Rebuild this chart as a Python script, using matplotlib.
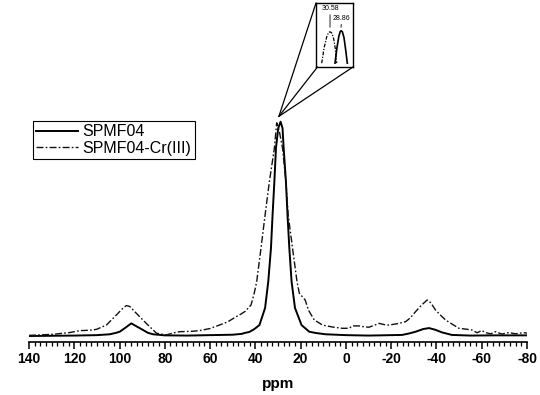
import matplotlib
matplotlib.use("Agg")
import matplotlib.pyplot as plt
from matplotlib.ticker import MultipleLocator
from matplotlib.patches import ConnectionPatch

plt.rcParams['font.family'] = ['Liberation Sans', 'DejaVu Sans']

# ---- data (ppm, relative intensity) ----
solid_ppm = [140, 130, 120, 110, 104.3, 101.5, 99.9, 97.5, 94.8, 92.5, 89.6, 87.5,
             85.2, 80, 70, 60, 50, 46, 44.8, 42.6, 40.5, 38.2, 35.7, 34.3, 33.1,
             32.4, 31.6, 30.9, 29.9, 28.86, 28.0, 27.5, 26.5, 25.8, 25.0, 24.0,
             22.5, 19.6, 16.2, 13.3, 8.9, 0, -10, -20, -24.8, -28, -30.8, -34,
             -36.7, -39.5, -42.4, -46.8, -55, -65, -80]
solid_int = [0.0, 0.1, 0.2, 0.4, 0.8, 1.5, 2.0, 3.8, 5.9, 4.5, 2.8, 1.5,
             0.8, 0.3, 0.2, 0.4, 0.6, 1.0, 1.4, 1.9, 3.2, 5.1, 13.1, 25.4, 41.1,
             56.5, 72.1, 87.7, 97.0, 100.0, 97.0, 87.7, 72.1, 56.5, 41.1, 25.4,
             13.1, 5.1, 2.0, 1.4, 0.8, 0.4, 0.2, 0.4, 0.5, 1.2, 2.0, 3.2,
             3.7, 2.9, 1.7, 0.5, 0.2, 0.3, 0.3]

cr_ppm = [140, 135, 129.3, 122, 117.5, 113, 110.2, 105.8, 101.4, 98.5, 97.0, 95.5,
          92.6, 88.2, 83.7, 79.3, 76, 73.5, 68, 64.7, 60, 55.9, 52.2, 48.5, 47,
          44.5, 41.9, 40.5, 39.4, 37.5, 35.7, 33.8, 31.6, 30.58, 29.5, 28.0, 26.5,
          25.5, 23.6, 21.6, 20.6, 18.0, 16.5, 14.0, 10.3, 6.0, 1.7, -1.4, -2.9,
          -5.8, -8, -10.2, -12.5, -14.6, -17, -19, -23, -26.4, -28.5, -30.8,
          -33.5, -35.9, -37.5, -39.6, -42, -44, -47, -49.9, -53, -55.7, -58,
          -60, -61.6, -64, -66, -68.9, -72, -75, -78.5, -80]
cr_int = [0.3, 0.5, 0.8, 1.6, 2.5, 2.7, 3.1, 5.1, 9.8, 13.0, 14.2, 13.8,
          10.6, 5.9, 1.3, 0.5, 1.5, 2.0, 2.2, 2.5, 3.5, 5.1, 6.6, 9.0, 9.8,
          11.5, 14.5, 20.0, 25.4, 41.1, 56.5, 72.1, 87.7, 99.5, 96.0, 87.7, 72.1,
          56.5, 41.1, 25.4, 20.0, 16.8, 12.0, 7.5, 5.1, 4.2, 3.6, 3.6, 4.7,
          4.7, 4.3, 4.1, 5.0, 5.9, 5.3, 5.1, 5.8, 6.7, 8.5, 11.4,
          14.5, 16.8, 15.5, 12.1, 9.5, 7.5, 5.5, 3.6, 3.2, 2.8, 1.5,
          2.6, 1.6, 1.0, 2.0, 0.9, 1.6, 1.0, 1.6, 1.3]

# inset (zoom on the peak tops)
inset_solid_ppm = [29.8, 29.5, 29.2, 29.0, 28.86, 28.65, 28.4, 28.15, 27.88]
inset_solid_int = [0.06, 0.30, 0.48, 0.55, 0.567, 0.55, 0.46, 0.28, 0.06]
inset_cr_ppm = [31.88, 31.5, 31.1, 30.8, 30.58, 30.3, 30.0, 29.75, 29.53]
inset_cr_int = [0.06, 0.30, 0.47, 0.54, 0.55, 0.53, 0.44, 0.28, 0.06]
peak_labels = ["30.58", "28.86"]

series_names = ["SPMF04", "SPMF04-Cr(III)"]
xticks = [140, 120, 100, 80, 60, 40, 20, 0, -20, -40, -60, -80]

dashdot = (0, (5, 1.6, 1.2, 1.6))

fig = plt.figure(figsize=(5.40, 3.95), dpi=100)
ax = fig.add_axes([29/540, 1-342/395, 498/540, 231/395])
l1, = ax.plot(solid_ppm, solid_int, color='black', lw=1.4, label=series_names[0])
l2, = ax.plot(cr_ppm, cr_int, color='#111111', lw=1.0, linestyle=dashdot, label=series_names[1])
ax.set_xlim(140, -80)
ax.set_ylim(-2.8, 105)
for s in ['left', 'right', 'top']:
    ax.spines[s].set_visible(False)
ax.spines['bottom'].set_linewidth(1.2)
ax.set_yticks([])
ax.set_xticks(xticks)
ax.set_xticklabels([str(t) for t in xticks], fontweight='bold', fontsize=10)
ax.xaxis.set_minor_locator(MultipleLocator(2.5))
ax.tick_params(axis='x', which='major', direction='out', length=5, width=1.1, pad=2)
ax.tick_params(axis='x', which='minor', direction='out', length=3, width=0.9)
ax.set_xlabel('ppm', fontweight='bold', fontsize=11, labelpad=8)

leg = fig.legend(handles=[l1, l2], loc='upper left',
                 bbox_to_anchor=(33/540, 1-121/395), bbox_transform=fig.transFigure,
                 fancybox=False, framealpha=1, edgecolor='black', fontsize=11.5,
                 handlelength=2.6, handletextpad=0.3, borderpad=0.2,
                 labelspacing=0.1, borderaxespad=0)
leg.get_frame().set_linewidth(0.8)

# inset
ins = fig.add_axes([316/540, 1-67/395, 37/540, 64/395])
ins.plot(inset_solid_ppm, inset_solid_int, color='black', lw=1.2)
ins.plot(inset_cr_ppm, inset_cr_int, color='black', lw=0.9, linestyle=(0, (3, 1.2, 1, 1.2)))
ins.set_xlim(32.77, 26.99)
ins.set_ylim(0, 1)
ins.set_xticks([])
ins.set_yticks([])
for s in ins.spines.values():
    s.set_linewidth(1.0)
ins.annotate(peak_labels[0], xy=(inset_cr_ppm[4], 0.62), xytext=(inset_cr_ppm[4], 0.86),
             ha='center', va='bottom', fontsize=5,
             arrowprops=dict(arrowstyle='-', lw=0.6, color='black', shrinkA=0, shrinkB=0))
ins.annotate(peak_labels[1], xy=(inset_solid_ppm[4], 0.62), xytext=(inset_solid_ppm[4] - 0.1, 0.71),
             ha='center', va='bottom', fontsize=5,
             arrowprops=dict(arrowstyle='-', lw=0.6, color='black', shrinkA=0, shrinkB=0))

tip = (29.6, 102.5)
for corner in [(0, 1), (0.04, 0), (1, 0)]:
    cp = ConnectionPatch(xyA=tip, coordsA=ax.transData, xyB=corner, coordsB=ins.transAxes,
                         color='black', lw=0.9)
    fig.add_artist(cp)

fig.savefig('out.png', dpi=100)
